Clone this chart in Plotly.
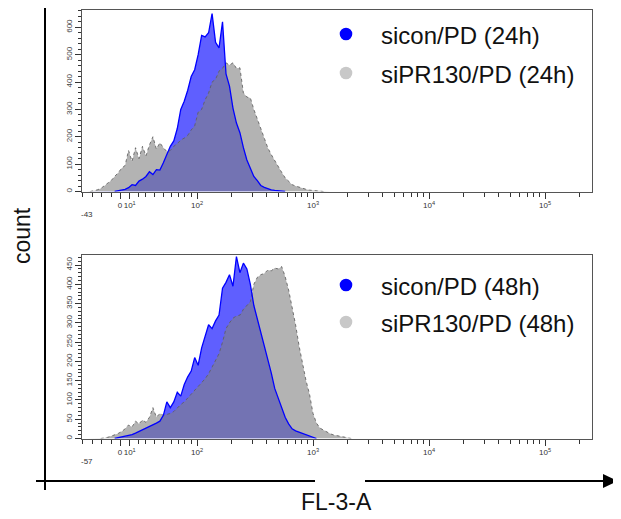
import numpy as np
import plotly.graph_objects as go

W, H = 621, 519

# ---------------- data ----------------
# histogram bin centres, in display channels (logicle decades of FL-3-A)
channel = [round(1.05 + 0.03 * k, 2) for k in range(77)]

# 24 h panel
sicon_24h = [0, 0, 0, 0, 0, 0, 0, 0, 0, 2, 5, 8, 14, 25, 22, 38, 45, 55, 72, 62,
             80, 78, 105, 135, 165, 185, 230, 300, 330, 370, 420, 445, 500, 570, 565, 580, 650, 545, 525, 620,
             430, 385, 305, 250, 215, 160, 115, 85, 55, 40, 22, 15, 10, 6, 4, 2, 1, 0, 0, 0,
             0, 0, 0, 0, 0, 0, 0, 0, 0, 0, 0, 0, 0, 0, 0, 0, 0]
sipr130_24h = [0, 0, 2, 6, 11, 20, 30, 40, 55, 68, 85, 95, 150, 110, 160, 120, 165, 130, 170, 200,
               155, 178, 160, 146, 150, 165, 175, 188, 195, 205, 225, 240, 290, 300, 335, 360, 400, 410, 440, 450,
               470, 462, 470, 450, 452, 360, 345, 342, 300, 265, 225, 190, 160, 135, 112, 90, 70, 50, 38, 25,
               20, 15, 12, 8, 5, 4, 2, 1, 0, 0, 0, 0, 0, 0, 0, 0, 0]

# 48 h panel
sicon_48h = [0, 0, 0, 0, 0, 0, 0, 0, 0, 2, 3, 5, 7, 10, 14, 18, 22, 26, 30, 36,
             40, 45, 60, 95, 80, 95, 120, 110, 140, 160, 175, 210, 190, 235, 265, 295, 285, 305, 320, 390,
             405, 425, 395, 472, 430, 455, 440, 400, 345, 310, 280, 240, 210, 170, 130, 105, 80, 55, 38, 25,
             20, 17, 14, 10, 6, 3, 0, 0, 0, 0, 0, 0, 0, 0, 0, 0, 0]
sipr130_48h = [0, 0, 0, 0, 0, 1, 3, 6, 9, 13, 18, 25, 35, 30, 45, 38, 48, 42, 55, 80,
               55, 65, 60, 62, 65, 70, 80, 88, 95, 105, 115, 125, 135, 145, 155, 168, 185, 205, 220, 250,
               285, 300, 312, 318, 320, 335, 345, 355, 400, 418, 425, 428, 437, 435, 442, 440, 446, 420, 385, 340,
               295, 240, 195, 150, 115, 65, 40, 27, 22, 16, 12, 9, 7, 5, 3, 1, 0]

series_names = [["sicon/PD (24h)", "siPR130/PD (24h)"], ["sicon/PD (48h)", "siPR130/PD (48h)"]]
x_tick_values = [0, 10, 100, 1000, 10000, 100000]
x_tick_text = ["0", "10<sup>1</sup>", "10<sup>2</sup>", "10<sup>3</sup>", "10<sup>4</sup>", "10<sup>5</sup>"]
x_minor_values = [-43, -30, -20, -10, 20, 30, 40, 50, 60, 70, 80, 90,
                  200, 300, 400, 500, 600, 700, 800, 900,
                  2000, 3000, 4000, 5000, 6000, 7000, 8000, 9000,
                  20000, 30000, 40000, 50000, 60000, 70000, 80000, 90000, 200000]
x_min_labels = ["-43", "-57"]

# logicle-like display scale of the cytometer axis (value -> display decades)
scale_v = [-43, -30, -20, -10, 0, 10, 20, 30, 40, 50, 60, 70, 80, 90, 100]
scale_u = [1.0086, 1.1034, 1.1767, 1.2586, 1.3362, 1.4198, 1.4914, 1.5603, 1.6353,
           1.7069, 1.7759, 1.8362, 1.8940, 1.9509, 2.0]


def to_display(v):
    v = np.asarray(v, dtype=float)
    return np.where(v >= 100, np.log10(np.maximum(v, 1e-9)), np.interp(v, scale_v, scale_u))


def trim(xs, ys):
    nz = [i for i, y in enumerate(ys) if y > 0]
    a, b = max(nz[0] - 1, 0), min(nz[-1] + 1, len(ys) - 1)
    return xs[a:b + 1], ys[a:b + 1]


# the page body adds an 8px margin; positions below are page pixels
OFF = 8


def px(x):
    return (x - OFF) / W


def py(y):
    return 1 - (y - OFF) / H


PX_PER_DEC = 116.0


def u_at(xpix):
    return 2 + (xpix - 197) / PX_PER_DEC


fig = go.Figure()

panels = [
    dict(blue=sicon_24h, grey=sipr130_24h, xa="x", ya="y", top=9.5, bottom=191.5, ymax=665, dt=100, mdt=20,
         names=series_names[0], leg=(34, 73), minlab=x_min_labels[0]),
    dict(blue=sicon_48h, grey=sipr130_48h, xa="x2", ya="y2", top=255, bottom=438.5, ymax=476, dt=50, mdt=10,
         names=series_names[1], leg=(285, 322), minlab=x_min_labels[1]),
]

font_main = "Liberation Sans, Arial, sans-serif"
shapes = []
annotations = []
for i, p in enumerate(panels):
    fig.add_trace(go.Scatter(x=channel, y=p["blue"], mode="lines", fill="tozeroy",
                             fillcolor="rgb(95,95,255)", line=dict(width=0),
                             xaxis=p["xa"], yaxis=p["ya"], hoverinfo="skip", showlegend=False))
    fig.add_trace(go.Scatter(x=channel, y=p["grey"], mode="lines", fill="tozeroy",
                             fillcolor="rgba(128,128,128,0.6)", line=dict(width=0),
                             xaxis=p["xa"], yaxis=p["ya"], hoverinfo="skip", showlegend=False))
    gx, gy = trim(channel, p["grey"])
    fig.add_trace(go.Scatter(x=gx, y=gy, mode="lines",
                             line=dict(color="rgba(95,95,95,0.85)", width=1, dash="dot"),
                             xaxis=p["xa"], yaxis=p["ya"], hoverinfo="skip", showlegend=False))
    bx, by = trim(channel, p["blue"])
    fig.add_trace(go.Scatter(x=bx, y=by, mode="lines",
                             line=dict(color="#0000ff", width=1.3),
                             xaxis=p["xa"], yaxis=p["ya"], hoverinfo="skip", showlegend=False))

    sfx = "" if i == 0 else "2"
    fig.update_layout(**{
        "xaxis" + sfx: dict(
            domain=[px(82), px(592)], range=[u_at(82), u_at(592)], anchor="y" + sfx,
            showline=True, mirror=True, linecolor="#555", linewidth=1,
            ticks="outside", ticklen=6, tickwidth=1, tickcolor="#333",
            tickmode="array", tickvals=list(to_display(x_tick_values)), ticktext=x_tick_text,
            tickangle=0,
            tickfont=dict(size=8, color="#333", family=font_main),
            minor=dict(tickmode="array", tickvals=list(to_display(x_minor_values)),
                       ticks="outside", ticklen=4, tickcolor="#333", showgrid=False),
            showgrid=False, zeroline=False, fixedrange=True),
        "yaxis" + sfx: dict(
            domain=[py(p["bottom"]), py(p["top"])], range=[0, p["ymax"]], anchor="x" + sfx,
            showline=True, mirror=True, linecolor="#555", linewidth=1,
            ticks="outside", ticklen=6, tickwidth=1, tickcolor="#333",
            tick0=0, dtick=p["dt"], tickangle=-90,
            tickfont=dict(size=8, color="#444", family=font_main),
            minor=dict(dtick=p["mdt"], ticks="outside", ticklen=3, tickcolor="#333", showgrid=False),
            showgrid=False, zeroline=False, fixedrange=True),
    })

    # legend (dots + labels)
    for j, (yy, col) in enumerate(zip(p["leg"], ["#0000ff", "#c8c8c8"])):
        shapes.append(dict(type="circle", xref="paper", yref="paper",
                           x0=px(346 - 6.3), x1=px(346 + 6.3), y0=py(yy + 6.3), y1=py(yy - 6.3),
                           fillcolor=col, line=dict(width=0)))
        annotations.append(dict(x=px(379), y=py(yy + 1), xref="paper", yref="paper",
                                text=p["names"][j], showarrow=False, xanchor="left", yanchor="middle",
                                font=dict(size=24, color="#111", family=font_main)))
    annotations.append(dict(x=px(87), y=py(p["bottom"] + 23), xref="paper", yref="paper",
                            text=p["minlab"], showarrow=False, xanchor="center", yanchor="middle",
                            font=dict(size=8, color="#333", family=font_main)))

# outer axes with arrows
LW = 2
shapes += [
    dict(type="line", xref="paper", yref="paper", x0=px(45), x1=px(45), y0=py(490), y1=py(2),
         line=dict(color="black", width=LW)),
    dict(type="path", xref="paper", yref="paper",
         path=f"M {px(40)},{py(8)} L {px(45)},{py(-6)} L {px(50)},{py(8)} Z",
         fillcolor="black", line=dict(width=0)),
    dict(type="line", xref="paper", yref="paper", x0=px(36), x1=px(605), y0=py(481), y1=py(481),
         line=dict(color="black", width=LW)),
    dict(type="path", xref="paper", yref="paper",
         path=f"M {px(603)},{py(474)} L {px(618)},{py(481)} L {px(603)},{py(488)} Z",
         fillcolor="black", line=dict(width=0)),
    dict(type="rect", xref="paper", yref="paper", x0=px(315), x1=px(365), y0=py(486), y1=py(475),
         fillcolor="white", line=dict(width=0)),
]

annotations += [
    dict(x=px(336), y=py(502), xref="paper", yref="paper", text="FL-3-A", showarrow=False,
         xanchor="center", yanchor="middle", font=dict(size=23, color="#111", family=font_main)),
    dict(x=px(22), y=py(236), xref="paper", yref="paper", text="count", showarrow=False, textangle=-90,
         xanchor="center", yanchor="middle", font=dict(size=23, color="#111", family=font_main)),
]

fig.update_layout(width=W, height=H, margin=dict(l=0, r=0, t=0, b=0),
                  plot_bgcolor="white", paper_bgcolor="white",
                  showlegend=False, shapes=shapes, annotations=annotations)

fig.write_html("out.html")
